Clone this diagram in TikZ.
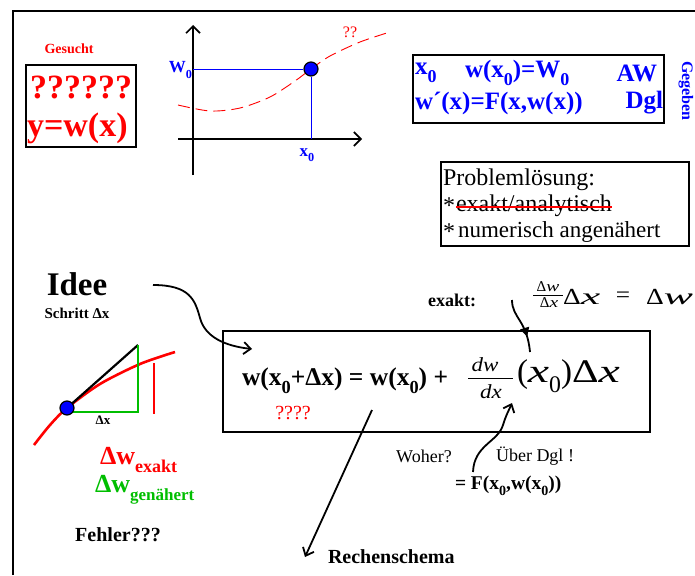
\documentclass[tikz,border=0pt]{standalone}
\usepackage{fontspec}
\setmainfont{Liberation Serif}
\usepackage{graphicx}
\usetikzlibrary{arrows.meta,decorations.markings}
\newcommand\fsz[1]{\fontsize{#1}{#1}\selectfont}
\newcommand\lsub[1]{\raisebox{-0.3em}{\scalebox{0.72}{#1}}}
\newcommand\wx[2]{\scalebox{#1}[1]{#2}}
\definecolor{myred}{RGB}{255,0,0}
\definecolor{myblue}{RGB}{0,0,255}
\definecolor{mygreen}{RGB}{0,190,0}
\tikzset{
  txt/.style={inner sep=0pt, outer sep=0pt},
  boxline/.style={line width=1.6pt},
  axis/.style={line width=1.6pt, -{Straight Barb[length=7pt,width=14pt,line width=1.6pt]}},
  barb/.style={line width=1.8pt, -{Straight Barb[length=7pt,width=12pt,line width=1.8pt]}},
  dotstyle/.style={circle, draw=black, line width=1.2pt, fill=myblue, minimum size=14pt, inner sep=0pt},
}
\begin{document}
\begin{tikzpicture}[x=1pt,y=-1pt]
\useasboundingbox (0,0) rectangle (695,575);
% frame
\draw[line width=1.6pt] (13,575) -- (13,11) -- (695,11);

% Gesucht
\node[txt, text=myred, font=\bfseries\fsz{14}] (ges) at (69,49) {Gesucht};
\draw[boxline] (26,65) rectangle (136,147);
\node[txt, text=myred, font=\bfseries\fsz{34}] (qq) at (81,87) {??????};
\node[txt, text=myred, font=\bfseries\fsz{34}, anchor=west] (yw) at (27,128) {y=w(x)};

% graph
\draw[axis] (193,175) -- (193,25);
\draw[axis] (178,139) -- (362,139);
\draw[myred, line width=0.9pt, dash pattern=on 12pt off 6pt] plot[smooth] coordinates {(178,105) (210,111) (240,108) (270,97) (295,81) (311,69) (330,56) (360,42) (390,32)};
\node[dotstyle] (pt) at (311,69) {};
\coordinate (w0) at (193,69);
\coordinate (x0) at (311,139);
\draw[myblue, line width=0.9pt] (w0) -- (pt.west);
\draw[myblue, line width=0.9pt] (pt.south) -- (x0);
\node[txt, text=myblue, font=\bfseries\fsz{17}, anchor=east] (W0lab) at (192,70) {W\lsub{0}};
\node[txt, text=myblue, font=\bfseries\fsz{17}] (x0lab) at (307,155) {x\lsub{0}};
\node[txt, text=myred, font=\fsz{16}] (qq2) at (350,32) {??};

% Gegeben box
\draw[boxline] (413,55) rectangle (664,123);
\node[txt, text=myblue, font=\bfseries\fsz{25}, anchor=west] (g1) at (415,73) {x\lsub{0}};
\node[txt, text=myblue, font=\bfseries\fsz{25}, anchor=west] (g2) at (465,73) {w(x\lsub{0})=W\lsub{0}};
\node[txt, text=myblue, font=\bfseries\fsz{25}, anchor=east] (g3) at (657,73) {AW};
\node[txt, text=myblue, font=\bfseries\fsz{25}, anchor=west] (g4) at (415,103) {w´(x)=F(x,w(x))};
\node[txt, text=myblue, font=\bfseries\fsz{25}, anchor=east] (g5) at (663,103) {Dgl};
\node[txt, text=myblue, font=\bfseries\fsz{16}, rotate=-90] (geg) at (686,91) {Gegeben};

% Problemloesung
\draw[boxline] (441,162) rectangle (689,246);
\node[txt, font=\fsz{24}, anchor=west] (p1) at (443,180) {Problemlösung:};
\node[txt, font=\fsz{24}, anchor=west] (p2a) at (443,206) {*};
\node[txt, font=\fsz{24}, anchor=west] (p2) at (456,206) {exakt/analytisch};
\draw[myred, line width=2.4pt] ([yshift=-1pt]p2.west) -- ([yshift=-1pt]p2.east);
\node[txt, font=\fsz{24}, anchor=west] (p3a) at (443,232) {*};
\node[txt, font=\fsz{23}, anchor=west] (p3) at (458,232) {numerisch angenähert};

% Idee
\node[txt, font=\bfseries\fsz{33}] (idee) at (77,284) {Idee};
\node[txt, font=\bfseries\fsz{15}] (schritt) at (77,313) {Schritt Δx};

% left figure
\draw[myred, line width=2.6pt] plot[smooth] coordinates {(34,445) (50,425) (67,408) (100,384) (140,364) (175,352)};
\coordinate (tA) at (138,345);
\coordinate (tB) at (138,412);
\coordinate (tC) at (67,412);
\draw[black, line width=2.2pt] (67,408) -- (tA);
\draw[mygreen, line width=2.4pt] (tC) -- (tB) -- (tA);
\draw[myred, line width=2.6pt] (154,363) -- (154,414);
\node[dotstyle] (pt2) at (67,408) {};
\node[txt, font=\bfseries\fsz{13}] (dx) at (103,420) {Δx};
\node[txt, text=myred, font=\bfseries\fsz{26}, anchor=west] (dwe) at (100,460) {Δw\raisebox{-0.3em}{\fsz{18}exakt}};
\node[txt, text=mygreen, font=\bfseries\fsz{26}, anchor=west] (dwg) at (95,490) {Δw\raisebox{-0.3em}{\fsz{17}genähert}};
\node[txt, font=\bfseries\fsz{20}] (fehler) at (118,535) {Fehler???};

% main box
\draw[boxline] (223,331) rectangle (650,432);
\node[txt, font=\bfseries\fsz{25.5}, anchor=west] (lhs) at (242,381) {w(x\lsub{0}+Δx) = w(x\lsub{0}) +};
\node[txt, font=\itshape\fsz{20}] (num) at (485,365) {\wx{1.15}{dw}};
\draw[line width=0.8pt] (468,378) -- (513,378);
\node[txt, font=\itshape\fsz{20}] (den) at (491,392) {\wx{1.15}{dx}};
\node[txt, font=\fsz{33}, anchor=west] (rhs) at (517,376) {(\wx{1.45}{\textit{x}}\lsub{0})\wx{1.25}{Δ}\wx{1.45}{\textit{x}}};
\node[txt, text=myred, font=\fsz{20}] (q4) at (293,413) {????};

% exakt formula
\node[txt, font=\bfseries\fsz{18}] (exakt) at (452,300) {exakt:};
\node[txt, font=\fsz{15}] (fn) at (548,287) {Δ\wx{1.3}{\textit{w}}};
\draw[line width=0.6pt] (533,295) -- (563,295);
\node[txt, font=\fsz{15}] (fd) at (549,303) {Δ\wx{1.3}{\textit{x}}};
\node[txt, font=\fsz{23}, anchor=west] (ex2) at (563,297) {\wx{1.2}{Δ}\wx{1.9}{\textit{x}}};
\node[txt, font=\fsz{23}] (eq) at (623,297) {\wx{1.1}{=}};
\node[txt, font=\fsz{23}, anchor=east] (ex3) at (693,297) {\wx{1.2}{Δ}\wx{1.9}{\textit{w}}};

% arrows
\coordinate (ideeS) at (153,285);
\coordinate (ideeE) at (252,349);
\draw[barb] (ideeS) .. controls (190,285) and (195,300) .. (200,318) .. controls (205,337) and (225,346) .. (ideeE);
\coordinate (rsS) at (372,410);
\coordinate (rsE) at (305,557);
\draw[barb] (rsS) -- (rsE);
\node[txt, font=\bfseries\fsz{20}, anchor=west] (rechen) at (328,557) {Rechenschema};
\coordinate (exS) at (512,300);
\coordinate (exE) at (530,352);
\draw[line width=1.8pt, postaction={decorate}, decoration={markings, mark=at position 0.72 with {\arrow{Triangle[length=9pt,width=9pt]}}}] (exS) .. controls (512,318) and (527,320) .. (exE);
\coordinate (wS) at (473,472);
\coordinate (wE) at (512,403);
\draw[barb] (wS) .. controls (474,445) and (498,442) .. (503,425) .. controls (506,415) and (509,410) .. (wE);
\node[txt, font=\fsz{18}] (woher) at (424,456) {Woher?};
\node[txt, font=\fsz{18}] (ueber) at (535,456) {Über Dgl !};
\node[txt, font=\bfseries\fsz{19.5}, anchor=west] (Fx) at (455,486) {= F(x\lsub{0},w(x\lsub{0}))};
\end{tikzpicture}
\end{document}
